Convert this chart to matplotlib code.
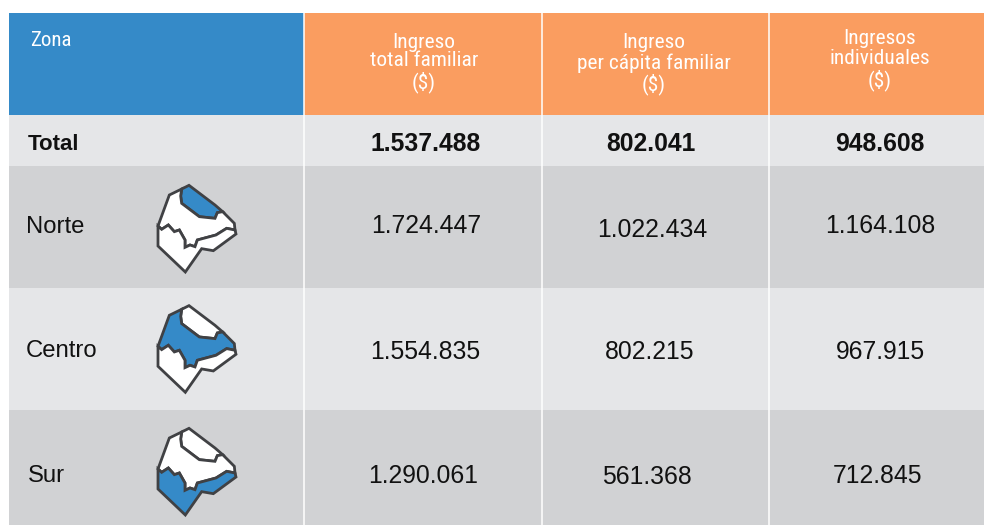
import matplotlib
matplotlib.use("Agg")
import matplotlib.pyplot as plt
from matplotlib.patches import Rectangle, Polygon

# Table content
zonas = ["Total", "Norte", "Centro", "Sur"]
headers = ["Ingreso\ntotal familiar\n($)", "Ingreso\nper cápita familiar\n($)", "Ingresos\nindividuales\n($)"]
ingreso_total = ["1.537.488", "1.724.447", "1.554.835", "1.290.061"]
ingreso_per_capita = ["802.041", "1.022.434", "802.215", "561.368"]
ingreso_individual = ["948.608", "1.164.108", "967.915", "712.845"]

BLUE = "#358ac8"
ORANGE = "#fa9d60"
LIGHT = "#e5e6e8"
MID = "#d1d2d4"
DARK = "#404144"
narrow = ["Roboto Condensed", "Liberation Sans"]

fig = plt.figure(figsize=(9.84, 5.25), dpi=100)
ax = fig.add_axes([0, 0, 1, 1])
ax.set_xlim(0, 984)
ax.set_ylim(525, 0)
ax.axis("off")

# column and row edges in pixels
col_edges = [9, 304, 542, 769, 984]
row_edges = [13, 115, 166, 288, 410, 525]
row_fill = [LIGHT, MID, LIGHT, MID]

ax.add_patch(Rectangle((col_edges[0], row_edges[0]), col_edges[1] - col_edges[0], row_edges[1] - row_edges[0], color=BLUE, lw=0))
ax.add_patch(Rectangle((col_edges[1], row_edges[0]), col_edges[4] - col_edges[1], row_edges[1] - row_edges[0], color=ORANGE, lw=0))
for i, c in enumerate(row_fill):
    ax.add_patch(Rectangle((col_edges[0], row_edges[i + 1]), col_edges[4] - col_edges[0], row_edges[i + 2] - row_edges[i + 1], color=c, lw=0))
for x in col_edges[1:4]:
    ax.plot([x, x], [row_edges[0], row_edges[-1]], color="white", lw=1.1, solid_capstyle="butt")

# header text
header_x = [424, 654, 880]
header_y = [[42, 61, 82], [43, 63, 84], [38, 58, 80]]
ax.text(30, 41, "Zona", color="white", fontsize=15, family=narrow, ha="left", va="center")
for h, x, ys in zip(headers, header_x, header_y):
    for line, y in zip(h.split("\n"), ys):
        ax.text(x, y, line, color="white", fontsize=15.4, family=narrow, ha="center", va="center")

# row labels
label_x = [28, 26, 26, 28]
label_y = [145, 227, 351, 476]
for i, z in enumerate(zonas):
    ax.text(label_x[i], label_y[i], z, fontsize=16 if i == 0 else 17.2, family="Liberation Sans", color="#111111",
            fontweight="bold" if i == 0 else "normal", ha="left", va="center")

# values
val_x = [[426, 426, 425, 423], [651, 652, 650, 647], [880, 880, 880, 877]]
val_y = [[144, 226, 352, 476], [144, 230, 352, 477], [144, 226, 352, 476]]
for j, col in enumerate([ingreso_total, ingreso_per_capita, ingreso_individual]):
    for i, v in enumerate(col):
        ax.text(val_x[j][i], val_y[j][i], v, fontsize=17.8, family="Liberation Sans", color="#111111",
                fontweight="bold" if i == 0 else "normal", ha="center", va="center")

# small map of the three zones (3x crop pixels)
norte_shape = [(125, 57), (147, 46), (225, 105), (248, 125), (232, 128), (225, 145), (178, 140), (125, 100), (122, 78)]
centro_shape = [(125, 57), (122, 78), (125, 100), (178, 140), (225, 145), (232, 128), (248, 125), (283, 160), (285, 180),
                (260, 175), (228, 195), (172, 210), (165, 230), (150, 225), (135, 232), (135, 210), (118, 180),
                (103, 185), (85, 165), (65, 178), (54, 168), (88, 75)]
sur_shape = [(54, 168), (65, 178), (85, 165), (103, 185), (118, 180), (135, 210), (135, 232), (150, 225), (165, 230),
             (172, 210), (228, 195), (260, 175), (285, 180), (288, 192), (220, 242), (185, 236), (136, 306), (54, 228)]
map_shapes = [norte_shape, centro_shape, sur_shape]
map_y = [170, 290.3, 413]

for k, y0 in enumerate(map_y):
    for s, shape in enumerate(map_shapes):
        pts = [(140 + px / 3, y0 + py / 3) for px, py in shape]
        ax.add_patch(Polygon(pts, closed=True, facecolor=BLUE if s == k else "white", edgecolor=DARK, lw=2.0, joinstyle="miter"))

fig.savefig("out.png", dpi=100)
